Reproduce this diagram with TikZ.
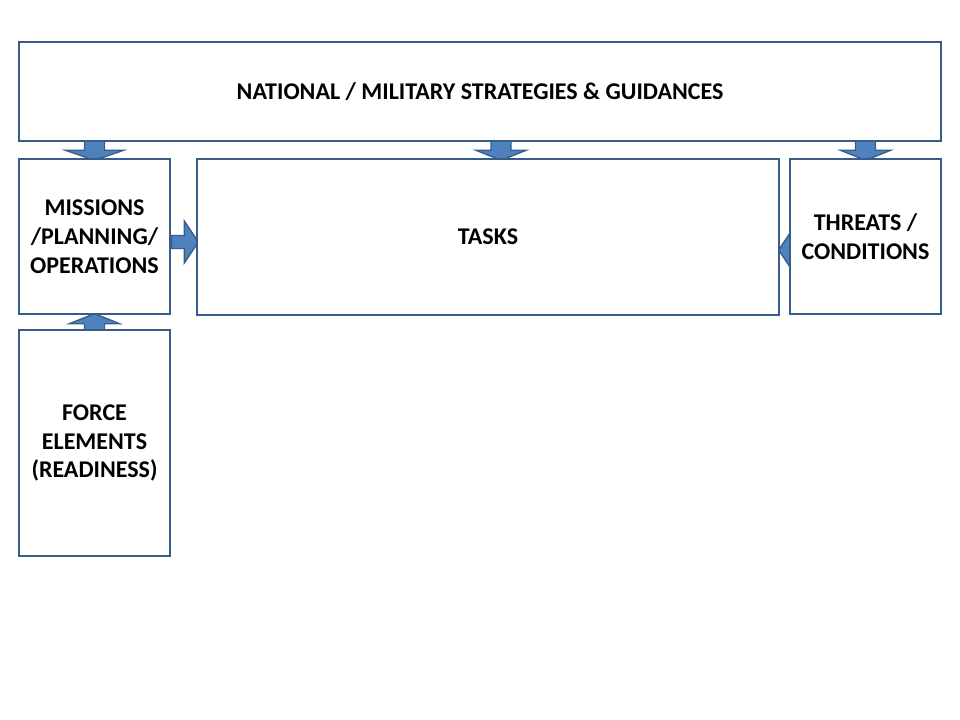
\documentclass[tikz,border=0pt]{standalone}
\usepackage{fontspec}
\setmainfont{Carlito}
\usetikzlibrary{calc, backgrounds}

\begin{document}
\begin{tikzpicture}[x=0.75pt, y=-0.75pt,
    box/.style={draw=borderColour, fill=white, line width=2pt, align=center,
        inner sep=0pt, font=\fontsize{18}{21.6}\selectfont\bfseries},
    arrowline/.style={draw=borderColour, fill=arrowColour, line width=1pt, line join=miter},
    pics/blockarrow/.style args={#1/#2/#3/#4}{code={
        \draw[arrowline] (0,-#2) -- (#1-#4,-#2) -- (#1-#4,-#3) -- (#1,0)
            -- (#1-#4,#3) -- (#1-#4,#2) -- (0,#2) -- cycle;
    }}]
    % Define colours
    \definecolor{borderColour}{HTML}{385D8A}
    \definecolor{arrowColour}{HTML}{4F81BD}

    % Fix the page size
    \useasboundingbox (0,0) rectangle (960,720);

    % Draw the boxes
    \node[box, minimum width=691.5pt, minimum height=74.25pt] (strategy) at (480,91.5)
        {NATIONAL / MILITARY STRATEGIES \& GUIDANCES};
    \node[box, minimum width=113.25pt, minimum height=116.25pt] (missions) at (94.5,236.5)
        {MISSIONS\\/PLANNING/\\OPERATIONS};
    \node[box, minimum width=436.5pt, minimum height=117pt] (tasks) at (488,237)
        {TASKS};
    \node[box, minimum width=113.25pt, minimum height=116.25pt] (threats) at (865.5,236.5)
        {THREATS /\\CONDITIONS};
    \node[box, minimum width=113.25pt, minimum height=169.5pt] (force) at (94.5,443)
        {FORCE\\ELEMENTS\\(READINESS)};

    % Draw the block arrows behind the boxes
    \begin{scope}[on background layer]
        \pic[rotate=-90] at ($(strategy.south -| missions.north)+(0,-4)$) {blockarrow=22/10/29/10};
        \pic[rotate=-90] at ($(strategy.south)+(21,-4)$) {blockarrow=22/10/25/10};
        \pic[rotate=-90] at ($(strategy.south -| threats.north)+(0,-4)$) {blockarrow=22/10/25/10};
        \pic at ($(missions.east)+(0,5.5)$) {blockarrow=27/6.5/21/14};
        \pic[rotate=180] at ($(threats.west)+(10,13.5)$) {blockarrow=20/6.5/21/14};
        \pic[rotate=90] at ($(force.north)+(0,7)$) {blockarrow=22/10/25/10};
    \end{scope}
\end{tikzpicture}
\end{document}
